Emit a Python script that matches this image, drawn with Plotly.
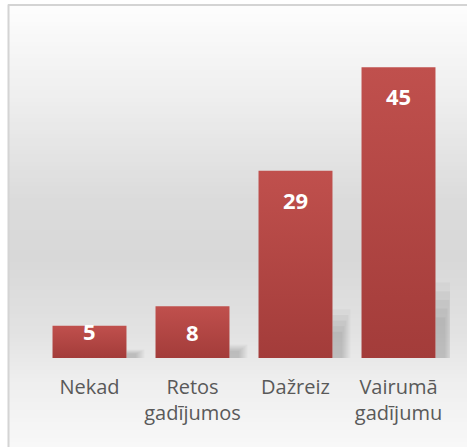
import plotly.graph_objects as go

# ---- data ----
categories = ["Nekad", "Retos<br>gadījumos", "Dažreiz", "Vairumā<br>gadījumu"]
values = [5, 8, 29, 45]
value_labels = ["5", "8", "29", "45"]

# ---- layout constants (styles/positions) ----
W, H = 467, 447
ML, MR, MT, MB = 38, 17, 35, 89
PW, PH = W - ML - MR, H - MT - MB
BAR_W = 0.718
label_shift = [-5, -26, -29, -29]   # px below bar top for data labels
Y_MAX = 50


def px_x(px):
    return (px - ML) / PW


def px_y(py):
    return (H - MB - py) / PH


fig = go.Figure()

# bars as filled shapes with vertical gradient
for i, v in enumerate(values):
    x0, x1 = i - BAR_W / 2, i + BAR_W / 2
    fig.add_trace(go.Scatter(
        x=[x0, x1, x1, x0, x0], y=[0, 0, v, v, 0],
        mode="lines", line=dict(width=0), fill="toself",
        fillgradient=dict(type="vertical",
                          colorscale=[[0, "#a33c3a"], [1, "#c0504d"]]),
        hoverinfo="skip", showlegend=False,
    ))

shapes = []
# background gradient (chart area box)
stops = [(6, 253), (100, 238), (200, 219), (260, 216), (330, 226), (380, 238), (447, 248)]


def grey_at(py):
    for (a, ca), (b, cb) in zip(stops[:-1], stops[1:]):
        if a <= py <= b:
            t = (py - a) / (b - a)
            return int(round(ca + (cb - ca) * t))
    return stops[-1][1]


step = 4
py = 6
while py < H:
    g = grey_at(py + step / 2)
    shapes.append(dict(type="rect", xref="paper", yref="paper",
                       x0=px_x(9), x1=px_x(W + 2), y0=px_y(py + step + 0.5), y1=px_y(py),
                       fillcolor=f"rgb({g},{g},{g})", line=dict(width=0), layer="below"))
    py += step

# border of chart box
shapes.append(dict(type="line", xref="paper", yref="paper",
                   x0=px_x(8.5), x1=px_x(8.5), y0=px_y(H + 2), y1=px_y(4.5),
                   line=dict(color="#d4d4d4", width=2), layer="below"))
shapes.append(dict(type="line", xref="paper", yref="paper",
                   x0=px_x(8), x1=px_x(W + 2), y0=px_y(5), y1=px_y(5),
                   line=dict(color="#d4d4d4", width=2), layer="below"))

# soft shadows to the right of bars
unit = 1 / (PW / 4)  # data units per pixel
for i, v in enumerate(values):
    right = i + BAR_W / 2
    for ext, frac, a in [(18, 0.26, 0.03), (16, 0.23, 0.04), (14, 0.20, 0.04),
                         (12, 0.17, 0.04), (10, 0.14, 0.04)]:
        shapes.append(dict(type="rect", xref="x", yref="y",
                           x0=right, x1=right + ext * unit, y0=0, y1=v * frac,
                           fillcolor=f"rgba(0,0,0,{a})", line=dict(width=0), layer="below"))

annotations = []
for i, (v, lab) in enumerate(zip(values, value_labels)):
    annotations.append(dict(x=i, y=v, xref="x", yref="y", text=f"<b>{lab}</b>",
                            showarrow=False, yanchor="middle", yshift=label_shift[i],
                            font=dict(family="Open Sans", size=22, color="white")))

fig.update_layout(
    width=W, height=H,
    margin=dict(l=ML, r=MR, t=MT, b=MB),
    paper_bgcolor="white", plot_bgcolor="rgba(0,0,0,0)",
    shapes=shapes, annotations=annotations,
    showlegend=False,
    xaxis=dict(range=[-0.5, 3.5], tickmode="array", tickvals=list(range(len(categories))),
               ticktext=categories, showgrid=False, zeroline=False, showline=False,
               ticks="", ticklabelstandoff=15, fixedrange=True,
               tickfont=dict(family="Open Sans", size=20, color="#595959")),
    yaxis=dict(range=[0, Y_MAX], showgrid=False, zeroline=False, showline=False,
               showticklabels=False, ticks="", fixedrange=True),
)

fig.write_html("out.html", config={"displayModeBar": False},
               post_script="document.body.style.margin='0';document.body.style.overflow='hidden';")
